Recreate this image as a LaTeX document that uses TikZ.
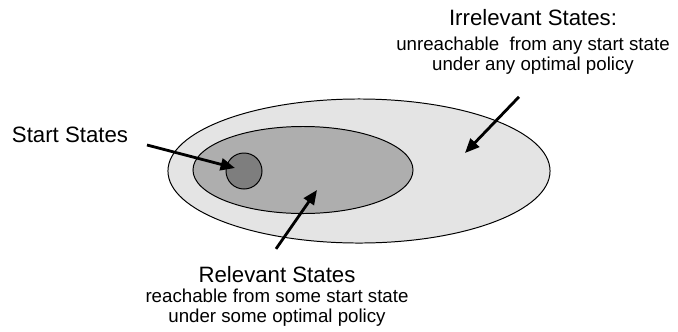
\documentclass[tikz,border=0pt]{standalone}
\usepackage{fontspec}
\setmainfont{Liberation Sans}
\usetikzlibrary{shapes.geometric,arrows.meta,calc}
\definecolor{outerfill}{HTML}{E4E4E4}
\definecolor{innerfill}{HTML}{AEAEAE}
\definecolor{startfill}{HTML}{7E7E7E}

\begin{document}
\begin{tikzpicture}[x=0.025cm,y=-0.025cm,
  region/.style={draw,ellipse,inner sep=0pt,line width=0.7pt},
  title/.style={font=\fontsize{15.8pt}{19pt}\selectfont},
  desc/.style={align=center,font=\fontsize{13.3pt}{14.4pt}\selectfont},
  arr/.style={-{Triangle[length=0.36cm,width=0.3cm]},line width=2pt}]
\useasboundingbox (0,0) rectangle (678,331);
% nested state sets
\node[region,fill=outerfill,minimum width=9.55cm,minimum height=3.6cm] (all) at (359,171) {};
\node[region,fill=innerfill,minimum width=5.5cm,minimum height=2.175cm] (rel) at (303,170) {};
\node[region,circle,fill=startfill,minimum size=0.9cm] (start) at (244,171) {};
% labels
\node[title] (startlbl) at (70,135) {Start States};
\node[title] (irrlbl) at (533,18) {Irrelevant States:};
\node[desc] (irrdesc) at (533,56) {unreachable\ \ from any start state\\under any optimal policy};
\node[title] (rellbl) at (277,275) {Relevant States};
\node[desc] (reldesc) at (277,308) {reachable from some start state\\under some optimal policy};
% arrow tips
\coordinate (starttip) at (235,168);
\coordinate (irrtip) at (465,153);
\coordinate (reltip) at (317,190);
\draw[arr] ($(startlbl.east)+(14,10)$) -- (starttip);
\draw[arr] ($(irrdesc.south)+(-14,17)$) -- (irrtip);
\draw[arr] ($(rellbl.north)+(-1,-13)$) -- (reltip);
\end{tikzpicture}
\end{document}
